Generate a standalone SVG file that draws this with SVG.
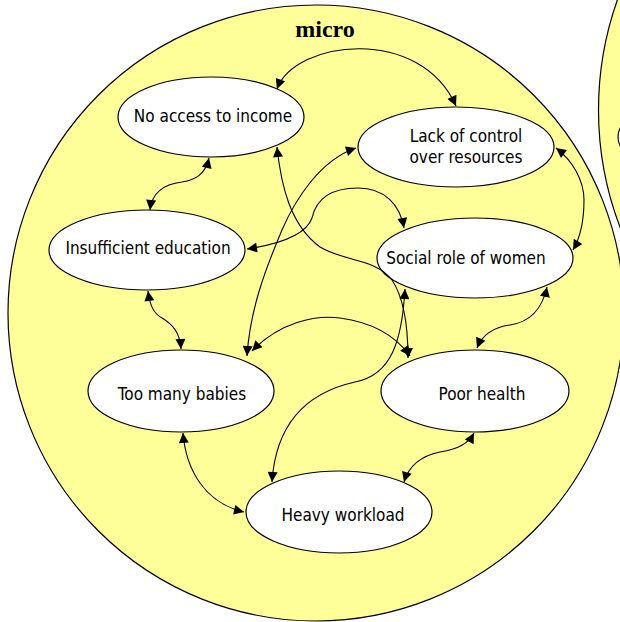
<svg xmlns="http://www.w3.org/2000/svg" width="620" height="622" viewBox="0 0 620 622">
<style>
.zone{fill:#FFFF99;stroke:#000;stroke-width:1.2}
.node ellipse{fill:#fff;stroke:#000;stroke-width:1.2}
.node text{font-family:"DejaVu Sans Condensed","DejaVu Sans",Verdana,sans-serif;font-stretch:condensed;font-size:17px;fill:#000;text-anchor:middle}
.title{font-family:"Liberation Serif","Times New Roman",serif;font-size:24px;font-weight:bold;text-anchor:middle;fill:#000}
#connectors path{fill:none;stroke:#000;stroke-width:1.1;marker-start:url(#ah);marker-end:url(#ah)}
</style>
<defs>
<marker id="ah" viewBox="0 0 10 10" refX="10" refY="5" markerWidth="12" markerHeight="10" orient="auto-start-reverse" markerUnits="userSpaceOnUse">
<path d="M0,0 L10,5 L0,10 z" fill="#000"/>
</marker>
</defs>
<g id="zone-micro">
<ellipse class="zone" cx="316" cy="313" rx="308" ry="308"/>
<text class="title" x="325" y="37">micro</text>
</g>
<g id="zone-right">
<circle class="zone" cx="928.5" cy="110" r="330"/>
<ellipse cx="710" cy="137" rx="92" ry="40" fill="#fff" stroke="#000" stroke-width="1.2"/>
</g>
<g id="n-income" class="node">
<ellipse cx="211" cy="117" rx="93" ry="40"/>
<text x="213" y="122">No access to income</text>
</g>
<g id="n-control" class="node">
<ellipse cx="456" cy="147" rx="98" ry="40"/>
<text x="466" y="142">Lack of control</text>
<text x="466" y="163">over resources</text>
</g>
<g id="n-education" class="node">
<ellipse cx="147" cy="250" rx="98" ry="40"/>
<text x="148" y="254">Insufficient education</text>
</g>
<g id="n-social" class="node">
<ellipse cx="475" cy="258" rx="98" ry="40"/>
<text x="466" y="264">Social role of women</text>
</g>
<g id="n-babies" class="node">
<ellipse cx="181" cy="391" rx="93" ry="41"/>
<text x="182" y="400">Too many babies</text>
</g>
<g id="n-health" class="node">
<ellipse cx="475" cy="391" rx="94" ry="41"/>
<text x="482" y="400">Poor health</text>
</g>
<g id="n-workload" class="node">
<ellipse cx="339" cy="512" rx="93" ry="41"/>
<text x="343" y="521">Heavy workload</text>
</g>
<g id="connectors">
<path d="M277,89 C295,40 420,25 456,106"/>
<path d="M209,158 C205,175 195,180 182,182 C165,184 152,192 150,210"/>
<path d="M148,291 C150,305 153,313 162,318 C172,324 180,332 181,349"/>
<path d="M183,433 C186,470 205,503 244,512"/>
<path d="M404,482 C410,462 425,455 440,452 C458,449 468,444 474,433"/>
<path d="M477,348 C483,333 495,327 510,325 C530,322 542,310 547,287"/>
<path d="M556,148 C572,160 584,180 584,200 C584,220 580,238 573,250"/>
<path d="M247,249 C280,244 306,235 312,218 C316,200 330,188 358,188 C385,188 400,205 404,228"/>
<path d="M277,147 C281,185 290,225 320,247 C345,262 375,258 392,280 C404,298 408,330 408,358"/>
<path d="M356,148 C320,160 295,200 282,230 C265,270 250,310 247,356"/>
<path d="M252,351 C280,322 315,315 340,318 C370,322 395,335 410,356"/>
<path d="M405,289 C402,340 392,375 355,382 C310,392 276,420 272,482"/>
</g>
</svg>
